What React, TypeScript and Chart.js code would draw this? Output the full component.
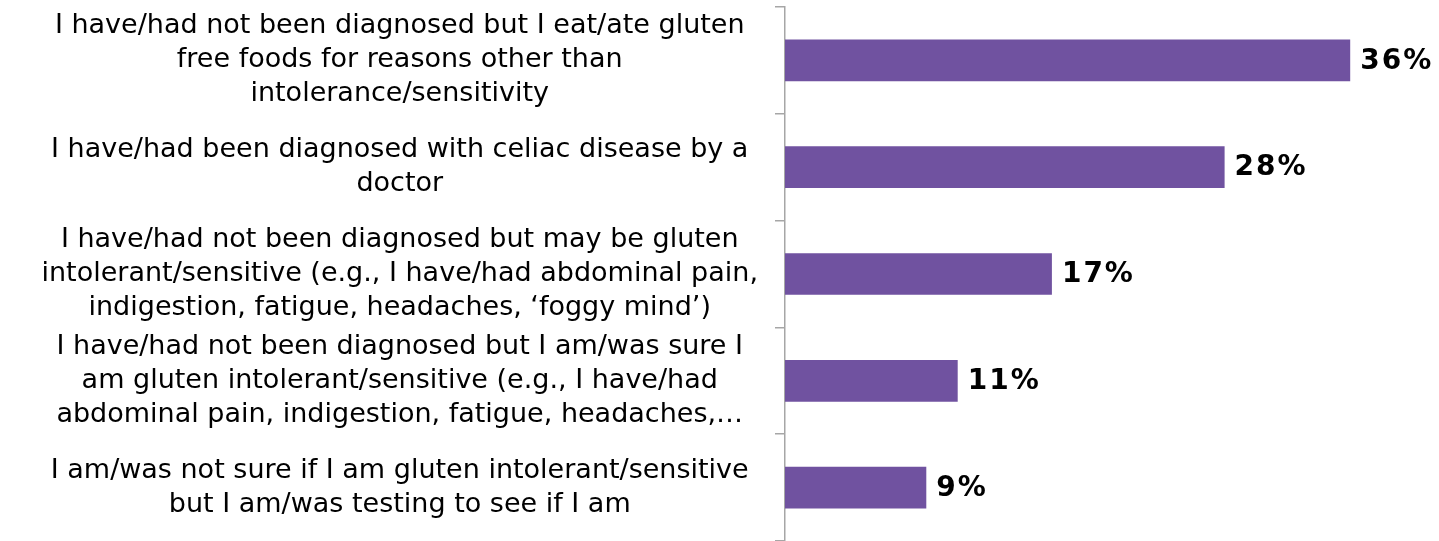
import React, { useEffect, useRef } from "react";
import { Chart, registerables } from "chart.js";

Chart.register(...registerables);

const categories: string[][] = [
  ["I have/had not been diagnosed but I eat/ate gluten", "free foods for reasons other than", "intolerance/sensitivity"],
  ["I have/had been diagnosed with celiac disease by a", "doctor"],
  ["I have/had not been diagnosed but may be gluten", "intolerant/sensitive (e.g., I have/had abdominal pain,", "indigestion, fatigue, headaches, \u2018foggy mind\u2019)"],
  ["I have/had not been diagnosed but I am/was sure I", "am gluten intolerant/sensitive (e.g., I have/had", "abdominal pain, indigestion, fatigue, headaches,\u2026"],
  ["I am/was not sure if I am gluten intolerant/sensitive", "but I am/was testing to see if I am"],
];

const percentages: number[] = [36, 28, 17, 11, 9];

const BAR_COLOR = "#7052A0";
const AXIS_COLOR = "#A6A6A6";
const FONT = "'DejaVu Sans', Verdana, sans-serif";

// Writes the bold percentage just past the end of each bar
const valueLabels = {
  id: "valueLabels",
  afterDatasetsDraw(chart: any) {
    const { ctx } = chart;
    const meta = chart.getDatasetMeta(0);
    ctx.save();
    ctx.font = `bold 28px ${FONT}`;
    ctx.letterSpacing = "2px";
    ctx.fillStyle = "#000";
    ctx.textAlign = "left";
    ctx.textBaseline = "middle";
    meta.data.forEach((bar: any, i: number) => {
      ctx.fillText(`${percentages[i]}%`, bar.x + 10, bar.y + 1);
    });
    ctx.restore();
  },
};

export default function App() {
  const canvasRef = useRef<HTMLCanvasElement | null>(null);

  useEffect(() => {
    if (!canvasRef.current) return;
    const chart = new Chart(canvasRef.current, {
      type: "bar",
      data: {
        labels: categories,
        datasets: [
          {
            data: percentages,
            backgroundColor: BAR_COLOR,
            borderWidth: 0,
            barPercentage: 0.39,
            categoryPercentage: 1,
          },
        ],
      },
      options: {
        indexAxis: "y",
        animation: false,
        responsive: false,
        layout: { padding: { top: 7, right: 26, bottom: 0, left: 0 } },
        plugins: {
          legend: { display: false },
          tooltip: { enabled: false },
        },
        scales: {
          x: {
            display: false,
            min: 0,
            max: 40,
          },
          y: {
            afterFit(scale: any) {
              scale.width = 785;
              scale.paddingTop = 0;
              scale.paddingBottom = 0;
            },
            grid: {
              display: true,
              drawOnChartArea: false,
              drawTicks: true,
              tickLength: 10,
              color: AXIS_COLOR,
              lineWidth: 1.5,
              offset: true,
            },
            border: { display: true, color: AXIS_COLOR, width: 1.5 },
            ticks: {
              autoSkip: false,
              crossAlign: "center",
              padding: 17,
              color: "#000",
              font: { family: FONT, size: 27, lineHeight: 1.26 },
            },
          },
        },
      },
      plugins: [valueLabels],
    });
    return () => chart.destroy();
  }, []);

  return (
    <div style={{ position: "fixed", left: 0, top: 0, width: 1439, height: 541, background: "#fff" }}>
      <canvas ref={canvasRef} width={1439} height={541} />
    </div>
  );
}
